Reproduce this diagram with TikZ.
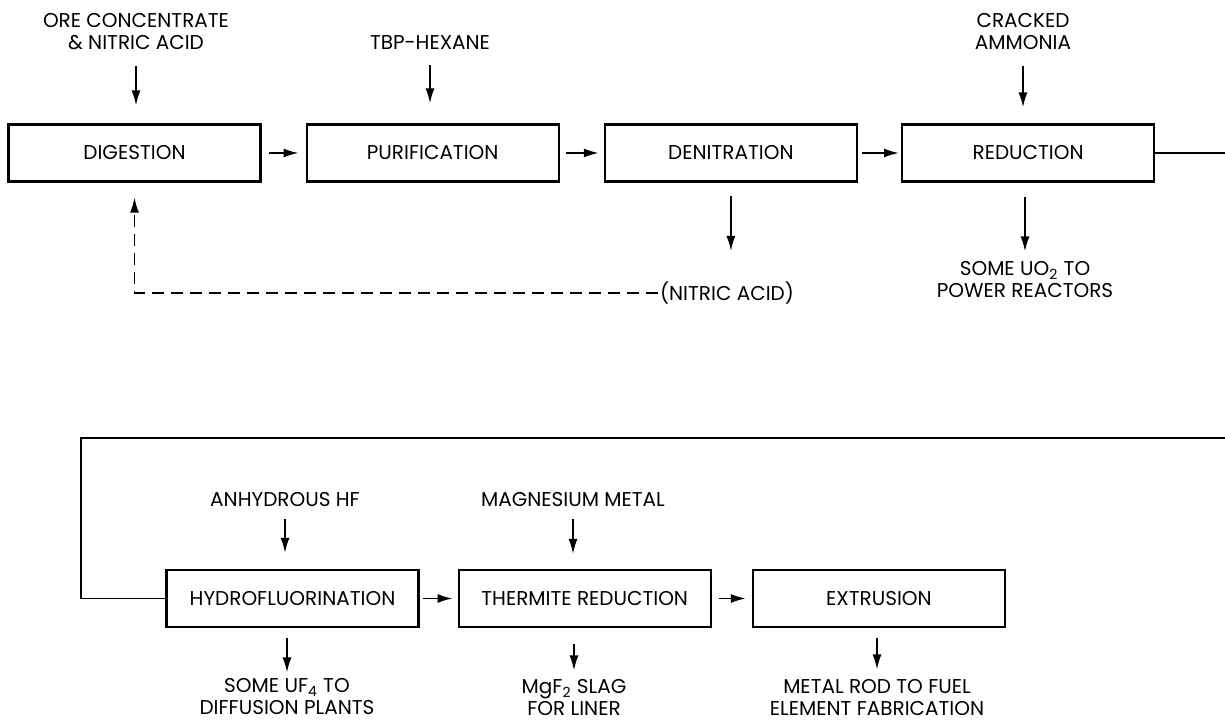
\documentclass[tikz,border=0pt]{standalone}
\usepackage{fontspec}
\setmainfont{Poppins}
\usepackage{tikz}
\usetikzlibrary{positioning, arrows.meta}

\tikzset{
    procbox/.style={draw, line width=1.1pt, minimum width=126pt, minimum height=28.5pt, inner sep=2pt},
    lbl/.style={inner sep=0pt, align=center},
    flow/.style={line width=0.9pt, -{Latex[length=7.5pt, width=4.5pt]}},
    pipe/.style={line width=0.9pt},
    recycle/.style={line width=0.9pt, dash pattern=on 6pt off 3.5pt, -{Latex[length=7.5pt, width=4.5pt]}}
}

\begin{document}
\begin{tikzpicture}[x=0.5pt, y=-0.5pt, font=\fontsize{10}{11}\selectfont]
    \useasboundingbox (0,0) rectangle (1225,721);
    % Top row of process steps
    \node (dig) [procbox] at (134.5,153) {DIGESTION};
    \node (purif) [procbox, right=22pt of dig] {PURIFICATION};
    \node (denit) [procbox, right=22pt of purif] {DENITRATION};
    \node (red) [procbox, right=21.5pt of denit] {REDUCTION};
    \draw [flow, shorten <=3.5pt, shorten >=3.5pt] (dig) -- (purif);
    \draw [flow, shorten <=3pt, shorten >=2.5pt] (purif) -- (denit);
    \draw [flow, shorten <=2pt, shorten >=1pt] (denit) -- (red);
    % Feeds
    \node (ore) [lbl] at (136,32) {ORE CONCENTRATE\\\& NITRIC ACID};
    \node (tbp) [lbl] at (430,43) {TBP-HEXANE};
    \node (nh3) [lbl] at (1023,32) {CRACKED\\AMMONIA};
    \draw [flow, shorten <=7.5pt, shorten >=9pt] (ore.south) -- (ore.south |- dig.north);
    \draw [flow, shorten <=7.5pt, shorten >=10pt] (tbp.south) -- (tbp.south |- purif.north);
    \draw [flow, shorten <=7.5pt, shorten >=8pt] (nh3.south) -- (nh3.south |- red.north);
    % Products and recycle
    \coordinate (denout) at (726.5,251);
    \draw [flow, shorten <=6.5pt] (denit.south) -- (denit.south |- denout);
    \node (nitric) [lbl] at (727,293) {(NITRIC ACID)};
    \draw [recycle, shorten <=1pt] (nitric.west) -| ([yshift=-7.5pt]dig.south);
    \node (uo2) [lbl] at (1025,280) {SOME UO\textsubscript{2} TO\\POWER REACTORS};
    \draw [flow, shorten <=7pt, shorten >=5pt] (red.south -| uo2.north) -- (uo2.north);
    % Link to the lower row
    \coordinate (rowend) at (1225,155);
    \draw [pipe] (red.east) -- (red.east -| rowend);
    \coordinate (loopin) at (1225,438);
    \coordinate (loopcorner) at (81,438);
    % Bottom row of process steps
    \node (hf) [procbox] at (292.5,598.5) {HYDROFLUORINATION};
    \node (therm) [procbox, right=19pt of hf] {THERMITE REDUCTION};
    \node (extr) [procbox, right=20pt of therm] {EXTRUSION};
    \draw [pipe] (loopin) -- (loopcorner) |- (hf.west);
    \draw [flow, shorten <=1.5pt, shorten >=2.5pt] (hf) -- (therm);
    \draw [flow, shorten <=3.5pt, shorten >=3pt] (therm) -- (extr);
    \node (ahf) [lbl] at (285,500) {ANHYDROUS HF};
    \node (mg) [lbl] at (573,500) {MAGNESIUM METAL};
    \draw [flow, shorten <=5.5pt, shorten >=8pt] (ahf.south) -- (ahf.south |- hf.north);
    \draw [flow, shorten <=5.5pt, shorten >=7.5pt] (mg.south) -- (mg.south |- therm.north);
    \node (uf4) [lbl] at (287,697) {SOME UF\textsubscript{4} TO\\DIFFUSION PLANTS};
    \node (slag) [lbl] at (574,698) {MgF\textsubscript{2} SLAG\\FOR LINER};
    \node (rod) [lbl] at (877,698) {METAL ROD TO FUEL\\ELEMENT FABRICATION};
    \draw [flow, shorten <=5pt, shorten >=3pt] (hf.south -| uf4.north) -- (uf4.north);
    \draw [flow, shorten <=8pt, shorten >=4.5pt] (therm.south -| slag.north) -- (slag.north);
    \draw [flow, shorten <=5pt, shorten >=5pt] (extr.south -| rod.north) -- (rod.north);
\end{tikzpicture}
\end{document}
